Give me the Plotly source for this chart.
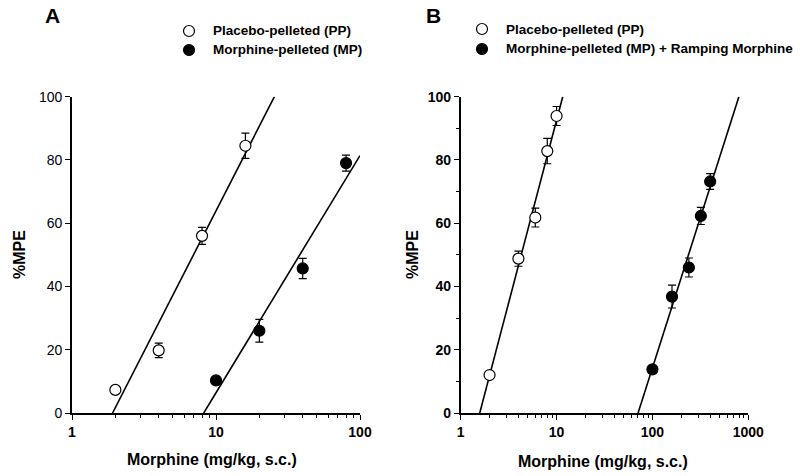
import numpy as np
import plotly.graph_objects as go

# ---------------- data ----------------
a_pp_dose = [2, 4, 8, 16]
a_pp_mpe = [7.3, 19.8, 56.0, 84.5]
a_pp_sem = [1.0, 2.3, 2.7, 4.0]

a_mp_dose = [10, 20, 40, 80]
a_mp_mpe = [10.3, 26.0, 45.7, 79.0]
a_mp_sem = [1.0, 3.6, 3.2, 2.5]

b_pp_dose = [2, 4, 6, 8, 10]
b_pp_mpe = [12.0, 48.8, 61.8, 82.8, 93.9]
b_pp_sem = [1.0, 2.4, 3.0, 4.0, 3.0]

b_mp_dose = [100, 160, 240, 320, 400]
b_mp_mpe = [13.8, 36.8, 46.0, 62.3, 73.2]
b_mp_sem = [1.0, 3.6, 3.0, 2.7, 2.5]

legend_a = ["Placebo-pelleted (PP)", "Morphine-pelleted (MP)"]
legend_b = ["Placebo-pelleted (PP)", "Morphine-pelleted (MP) + Ramping Morphine"]
x_title = "Morphine (mg/kg, s.c.)"
y_title = "%MPE"

FONT = "Liberation Sans, Arial, sans-serif"
W, H = 800, 476


def px(x):
    return x / W


def py(y):
    return 1 - y / H


def fit_line(dose, mpe, xmax_log):
    lx = np.log10(dose)
    m, b = np.polyfit(lx, mpe, 1)
    x0 = (0 - b) / m
    x1 = min((100 - b) / m, xmax_log)
    xs = np.array([x0, x1])
    return 10 ** xs, m * xs + b


fig = go.Figure()

MARKER_SIZE = 11


def add_series(dose, mpe, sem, filled, xa, ya, xmax_log):
    lx, ly = fit_line(dose, mpe, xmax_log)
    fig.add_trace(go.Scatter(x=lx, y=ly, mode="lines", xaxis=xa, yaxis=ya,
                             line=dict(color="black", width=1.6),
                             showlegend=False, hoverinfo="skip"))
    fig.add_trace(go.Scatter(
        x=dose, y=mpe, mode="markers", xaxis=xa, yaxis=ya, showlegend=False,
        error_y=dict(type="data", array=sem, visible=True, color="black",
                     thickness=1.2, width=4),
        marker=dict(symbol="circle", size=MARKER_SIZE,
                    color="black" if filled else "white",
                    line=dict(color="black", width=1.2)),
        cliponaxis=False))


add_series(a_pp_dose, a_pp_mpe, a_pp_sem, False, "x", "y", 2)
add_series(a_mp_dose, a_mp_mpe, a_mp_sem, True, "x", "y", 2)
add_series(b_pp_dose, b_pp_mpe, b_pp_sem, False, "x2", "y2", 3)
add_series(b_mp_dose, b_mp_mpe, b_mp_sem, True, "x2", "y2", 3)

# ---- manual legends: circle shapes + text annotations ----
legend_blocks = [
    (189, 31, 19, legend_a),   # symbol x, first row y, row gap, labels
    (482, 29, 20, legend_b),
]
r = MARKER_SIZE / 2
for sx, sy, gap, labels in legend_blocks:
    for i, lab in enumerate(labels):
        filled = i == 1
        cy = sy + i * gap
        fig.add_shape(type="circle", xref="paper", yref="paper",
                      xsizemode="pixel", ysizemode="pixel",
                      xanchor=px(sx), yanchor=py(cy),
                      x0=-r, x1=r, y0=-r, y1=r,
                      fillcolor="black" if filled else "white",
                      line=dict(color="black", width=1.2))
        fig.add_annotation(xref="paper", yref="paper", showarrow=False,
                           x=px(sx + 22), y=py(cy),
                           xanchor="left", yanchor="middle", text=lab,
                           font=dict(size=13.5, weight="bold"))

axis_common = dict(showline=True, linecolor="black", linewidth=1.6,
                   showgrid=False, zeroline=False, ticks="outside",
                   ticklen=5, tickwidth=1.2, tickcolor="black", mirror=False,
                   automargin=False)

minor_a = [k * 10 ** d for d in range(0, 2) for k in range(2, 10)]
minor_b = [k * 10 ** d for d in range(0, 3) for k in range(2, 10)]

ydom = [py(413), py(96.7)]

fig.update_layout(
    width=W, height=H, margin=dict(l=0, r=0, t=0, b=0),
    paper_bgcolor="white", plot_bgcolor="white",
    font=dict(family=FONT, color="black"),
    showlegend=False,
    xaxis=dict(**axis_common, type="log", range=[0, 2], domain=[px(72), px(360)],
               anchor="y", tickvals=[1, 10, 100], ticktext=["1", "10", "100"],
               tickfont=dict(size=14, weight="bold"),
               minor=dict(tickvals=minor_a, ticks="outside", ticklen=3,
                          tickwidth=1, tickcolor="black", showgrid=False)),
    yaxis=dict(**axis_common, range=[0, 100], domain=ydom, anchor="x",
               tickvals=[0, 20, 40, 60, 80, 100],
               tickfont=dict(size=14)),
    xaxis2=dict(**axis_common, type="log", range=[0, 3],
                domain=[px(460.7), px(748.3)], anchor="y2",
                tickvals=[1, 10, 100, 1000], ticktext=["1", "10", "100", "1000"],
                tickfont=dict(size=14, weight="bold"),
                minor=dict(tickvals=minor_b, ticks="outside", ticklen=3,
                           tickwidth=1, tickcolor="black", showgrid=False)),
    yaxis2=dict(**axis_common, range=[0, 100], domain=ydom, anchor="x2",
                tickvals=[0, 20, 40, 60, 80, 100],
                tickfont=dict(size=14, weight="bold"),
                minor=dict(tickvals=[10, 30, 50, 70, 90], ticks="outside",
                           ticklen=3, tickwidth=1, tickcolor="black",
                           showgrid=False)),
)

ann = [
    dict(text="A", x=px(52), y=py(16), font=dict(size=21, weight="bold")),
    dict(text="B", x=px(433), y=py(16), font=dict(size=21, weight="bold")),
    dict(text=x_title, x=px(212), y=py(459), font=dict(size=16, weight="bold")),
    dict(text=x_title, x=px(603), y=py(461), font=dict(size=16, weight="bold")),
    dict(text=y_title, x=px(19), y=py(255), textangle=-90,
         font=dict(size=16, weight="bold")),
    dict(text=y_title, x=px(412), y=py(255), textangle=-90,
         font=dict(size=16, weight="bold")),
]
for a in ann:
    fig.add_annotation(xref="paper", yref="paper", showarrow=False,
                       xanchor="center", yanchor="middle", **a)

fig.write_html("out.html",
               config={"displayModeBar": False},
               post_script="document.body.style.margin='0';"
                           "document.body.style.overflow='hidden';")
